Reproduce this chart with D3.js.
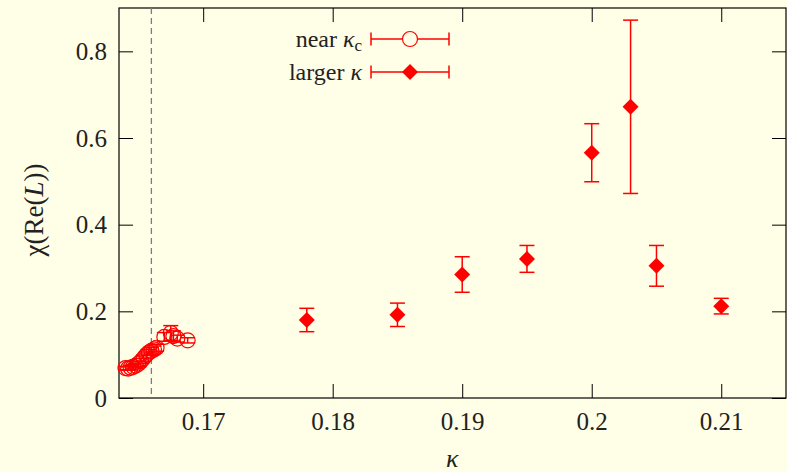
<!DOCTYPE html>
<html>
<head>
<meta charset="utf-8">
<script src="https://cdn.jsdelivr.net/npm/d3@7"></script>
<style>
  body { margin: 0; background: #fffee6; }
  svg { display: block; }
  svg text { font-family: "Liberation Serif", "Times New Roman", "DejaVu Serif", serif; fill: #222; }
  .axis text { font-size: 25px; }
  .axis path, .axis line { stroke: #000; }
</style>
</head>
<body>
<div id="vis"></div>
<script>
// near kappa_c (open circles)
const nearKappa = [0.1640, 0.1642, 0.1644, 0.1646, 0.1648, 0.1650, 0.1652, 0.1654, 0.1656,
                   0.1658, 0.1660, 0.1662, 0.1664, 0.1670, 0.1675, 0.1677, 0.1680, 0.1688];
const nearChi = [0.069, 0.068, 0.070, 0.072, 0.075, 0.079, 0.085, 0.092, 0.099,
                 0.105, 0.109, 0.112, 0.116, 0.141, 0.150, 0.143, 0.137, 0.133];
const nearErr = [0.004, 0.004, 0.005, 0.005, 0.005, 0.006, 0.006, 0.007, 0.007,
                 0.007, 0.008, 0.008, 0.008, 0.010, 0.017, 0.012, 0.008, 0.006];

// larger kappa (filled diamonds)
const largeKappa = [0.178, 0.185, 0.190, 0.195, 0.200, 0.203, 0.205, 0.210];
const largeChi = [0.180, 0.192, 0.285, 0.321, 0.566, 0.672, 0.305, 0.212];
const largeErr = [0.027, 0.027, 0.041, 0.031, 0.067, 0.200, 0.047, 0.018];

const kappaC = 0.166;
const xTicks = [0.17, 0.18, 0.19, 0.2, 0.21];
const yTicks = [0, 0.2, 0.4, 0.6, 0.8];

const W = 787, H = 472;
const margin = { top: 8, right: 1, bottom: 74, left: 119 };
const width = W - margin.left - margin.right;
const height = H - margin.top - margin.bottom;
const red = '#ff0000';

const root = d3.select('#vis')
    .append('svg')
    .attr('width', W)
    .attr('height', H);

root.append('rect').attr('width', W).attr('height', H).attr('fill', '#fffee6');

const svg = root.append('g')
    .attr('transform', `translate(${margin.left},${margin.top})`);

const xScale = d3.scaleLinear().domain([0.1635, 0.215]).range([0, width]);
const yScale = d3.scaleLinear().domain([0, 0.9]).range([height, 0]);

// axes, ticks pointing inward on all four sides
svg.append('g')
    .attr('class', 'axis')
    .attr('transform', `translate(0,${height})`)
    .call(d3.axisBottom(xScale).tickValues(xTicks).tickFormat(d3.format('')).tickSizeInner(-14).tickSizeOuter(0).tickPadding(14));

svg.append('g')
    .attr('class', 'axis')
    .call(d3.axisTop(xScale).tickValues(xTicks).tickFormat('').tickSizeInner(-14).tickSizeOuter(0));

svg.append('g')
    .attr('class', 'axis')
    .call(d3.axisLeft(yScale).tickValues(yTicks).tickFormat(d3.format('')).tickSizeInner(-14).tickSizeOuter(0).tickPadding(12));

svg.append('g')
    .attr('class', 'axis')
    .attr('transform', `translate(${width},0)`)
    .call(d3.axisRight(yScale).tickValues(yTicks).tickFormat('').tickSizeInner(-14).tickSizeOuter(0));

svg.selectAll('.axis .domain').remove();
svg.selectAll('.axis').attr('font-family', null);

svg.append('rect')
    .attr('x', 0).attr('y', 0)
    .attr('width', width).attr('height', height)
    .attr('fill', 'none')
    .attr('stroke', '#000')
    .attr('stroke-width', 1.2);

// kappa_c dashed line
svg.append('line')
    .attr('x1', xScale(kappaC)).attr('x2', xScale(kappaC))
    .attr('y1', 0).attr('y2', height)
    .attr('stroke', '#7a7a98')
    .attr('stroke-width', 1.3)
    .attr('stroke-dasharray', '6,4');

// axis labels
root.append('text')
    .attr('x', margin.left + xScale(0.19) - 10)
    .attr('y', 467)
    .attr('text-anchor', 'middle')
    .attr('font-size', 26)
    .attr('font-style', 'italic')
    .text('κ');

const ylab = root.append('text')
    .attr('transform', 'translate(43,210) rotate(-90)')
    .attr('text-anchor', 'middle')
    .attr('font-size', 27);
ylab.append('tspan').text('χ(Re(');
ylab.append('tspan').attr('font-style', 'italic').text('L');
ylab.append('tspan').text('))');

const capW = 7.5;

function errorBars(g, kappa, chi, err) {
    const d = kappa.map((k, i) => ({ k: k, v: chi[i], e: err[i] }));
    const eb = g.selectAll('g.eb').data(d).join('g').attr('class', 'eb')
        .attr('stroke', red).attr('stroke-width', 1.5);
    eb.append('line')
        .attr('x1', p => xScale(p.k)).attr('x2', p => xScale(p.k))
        .attr('y1', p => yScale(p.v - p.e)).attr('y2', p => yScale(p.v + p.e));
    eb.append('line')
        .attr('x1', p => xScale(p.k) - capW).attr('x2', p => xScale(p.k) + capW)
        .attr('y1', p => yScale(p.v + p.e)).attr('y2', p => yScale(p.v + p.e));
    eb.append('line')
        .attr('x1', p => xScale(p.k) - capW).attr('x2', p => xScale(p.k) + capW)
        .attr('y1', p => yScale(p.v - p.e)).attr('y2', p => yScale(p.v - p.e));
    return d;
}

const nearG = svg.append('g');
const nearData = errorBars(nearG, nearKappa, nearChi, nearErr);
nearG.selectAll('circle')
    .data(nearData)
    .join('circle')
    .attr('cx', p => xScale(p.k))
    .attr('cy', p => yScale(p.v))
    .attr('r', 7.5)
    .attr('fill', 'none')
    .attr('stroke', red)
    .attr('stroke-width', 1.2);

const diamond = d3.symbol().type(d3.symbolSquare).size(128);
const largeG = svg.append('g');
const largeData = errorBars(largeG, largeKappa, largeChi, largeErr);
largeG.selectAll('path.pt')
    .data(largeData)
    .join('path')
    .attr('class', 'pt')
    .attr('d', diamond)
    .attr('transform', p => `translate(${xScale(p.k)},${yScale(p.v)}) rotate(45)`)
    .attr('fill', red);

// legend
const legend = root.append('g');
const rows = [
    { y: 39, label: ['near ', 'κ', 'c'], type: 'circle' },
    { y: 72, label: ['larger ', 'κ'], type: 'diamond' }
];
rows.forEach(r => {
    const t = legend.append('text')
        .attr('x', 362).attr('y', r.y + 8)
        .attr('text-anchor', 'end')
        .attr('font-size', 24);
    t.append('tspan').text(r.label[0]);
    t.append('tspan').attr('font-style', 'italic').text(r.label[1]);
    if (r.label[2]) {
        t.append('tspan').attr('font-size', 17).attr('dy', 4).text(r.label[2]);
    }
    const lg = legend.append('g').attr('stroke', red).attr('stroke-width', 1.5);
    lg.append('line').attr('x1', 371).attr('x2', 449).attr('y1', r.y).attr('y2', r.y);
    lg.append('line').attr('x1', 371).attr('x2', 371).attr('y1', r.y - 6.5).attr('y2', r.y + 6.5);
    lg.append('line').attr('x1', 449).attr('x2', 449).attr('y1', r.y - 6.5).attr('y2', r.y + 6.5);
    if (r.type === 'circle') {
        legend.append('circle').attr('cx', 410).attr('cy', r.y).attr('r', 7.5)
            .attr('fill', '#fffee6').attr('stroke', red).attr('stroke-width', 1.2);
    } else {
        legend.append('path').attr('d', diamond)
            .attr('transform', `translate(410,${r.y}) rotate(45)`).attr('fill', red);
    }
});
</script>
</body>
</html>
